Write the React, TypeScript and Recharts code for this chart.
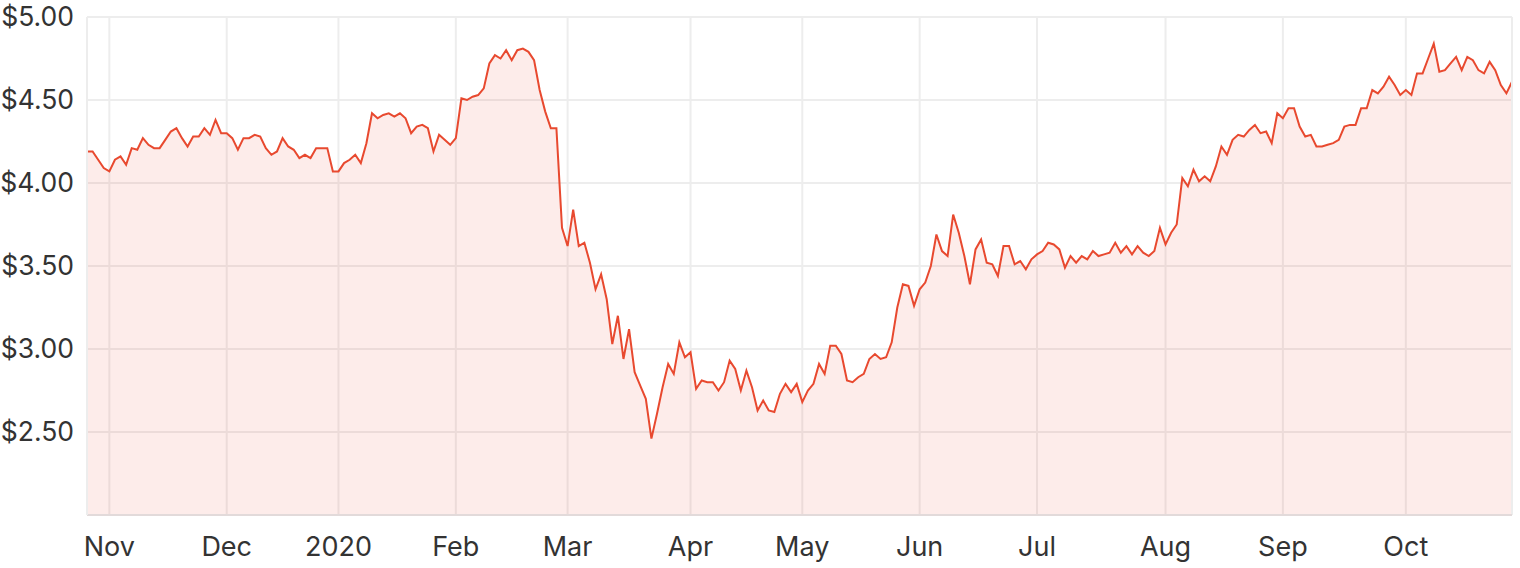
import { AreaChart, Area, XAxis, YAxis, CartesianGrid, ReferenceLine } from "recharts";

// trading calendar (ASX), first and last session shown
const startDate = "2019-10-28";
const endDate = "2020-10-28";
const asxHolidays = [
  "2019-12-25",
  "2019-12-26",
  "2020-01-01",
  "2020-01-27",
  "2020-04-10",
  "2020-04-13",
  "2020-06-08",
];

const monthNames = ["Jan", "Feb", "Mar", "Apr", "May", "Jun", "Jul", "Aug", "Sep", "Oct", "Nov", "Dec"];

// closing price, one value per trading day
const prices = [
  4.19, 4.19, 4.14, 4.09, 4.07, 4.14, 4.16, 4.11, 4.21, 4.2,
  4.27, 4.23, 4.21, 4.21, 4.26, 4.31, 4.33, 4.27, 4.22, 4.28,
  4.28, 4.33, 4.29, 4.38, 4.3, 4.3, 4.27, 4.2, 4.27, 4.27,
  4.29, 4.28, 4.21, 4.17, 4.19, 4.27, 4.22, 4.2, 4.15, 4.17,
  4.15, 4.21, 4.21, 4.21, 4.07, 4.07, 4.12, 4.14, 4.17, 4.12,
  4.24, 4.42, 4.39, 4.41, 4.42, 4.4, 4.42, 4.39, 4.3, 4.34,
  4.35, 4.33, 4.19, 4.29, 4.26, 4.23, 4.27, 4.51, 4.5, 4.52,
  4.53, 4.57, 4.72, 4.77, 4.75, 4.8, 4.74, 4.8, 4.81, 4.79,
  4.74, 4.56, 4.43, 4.33, 4.33, 3.73, 3.62, 3.84, 3.62, 3.64,
  3.52, 3.36, 3.45, 3.3, 3.03, 3.2, 2.94, 3.12, 2.86, 2.78,
  2.7, 2.46, 2.61, 2.77, 2.91, 2.85, 3.04, 2.95, 2.98, 2.76,
  2.81, 2.8, 2.8, 2.75, 2.8, 2.93, 2.88, 2.75, 2.87, 2.77,
  2.63, 2.69, 2.63, 2.62, 2.73, 2.79, 2.74, 2.79, 2.68, 2.75,
  2.79, 2.91, 2.85, 3.02, 3.02, 2.97, 2.81, 2.8, 2.83, 2.85,
  2.94, 2.97, 2.94, 2.95, 3.04, 3.25, 3.39, 3.38, 3.26, 3.36,
  3.4, 3.5, 3.69, 3.59, 3.56, 3.81, 3.7, 3.56, 3.39, 3.6,
  3.66, 3.52, 3.51, 3.44, 3.62, 3.62, 3.51, 3.53, 3.48, 3.54,
  3.57, 3.59, 3.64, 3.63, 3.6, 3.49, 3.56, 3.52, 3.56, 3.54,
  3.59, 3.56, 3.57, 3.58, 3.64, 3.58, 3.62, 3.57, 3.62, 3.58,
  3.56, 3.59, 3.73, 3.63, 3.7, 3.75, 4.03, 3.98, 4.08, 4.01,
  4.04, 4.01, 4.1, 4.22, 4.17, 4.26, 4.29, 4.28, 4.32, 4.35,
  4.3, 4.31, 4.24, 4.42, 4.39, 4.45, 4.45, 4.34, 4.28, 4.29,
  4.22, 4.22, 4.23, 4.24, 4.26, 4.34, 4.35, 4.35, 4.45, 4.45,
  4.56, 4.54, 4.58, 4.64, 4.59, 4.53, 4.56, 4.53, 4.66, 4.66,
  4.75, 4.84, 4.67, 4.68, 4.72, 4.76, 4.68, 4.76, 4.74, 4.68,
  4.66, 4.73, 4.68, 4.59, 4.54, 4.61,
];

const priceTicks = [2.5, 3, 3.5, 4, 4.5, 5];

function tradingDays(): string[] {
  const out: string[] = [];
  const d = new Date(startDate + "T00:00:00Z");
  const end = new Date(endDate + "T00:00:00Z");
  while (d <= end) {
    const wd = d.getUTCDay();
    const iso = d.toISOString().slice(0, 10);
    if (wd !== 0 && wd !== 6 && !asxHolidays.includes(iso)) out.push(iso);
    d.setUTCDate(d.getUTCDate() + 1);
  }
  return out;
}

const days = tradingDays();
const data = days.map((date, i) => ({ i, date, price: prices[i] }));

// first trading day of each month gets a tick
const monthTicks = data
  .filter((d, i) => i > 0 && d.date.slice(0, 7) !== data[i - 1].date.slice(0, 7))
  .map((d) => d.i);

const formatMonth = (i: number) => {
  const date = data[i]?.date ?? "";
  const m = Number(date.slice(5, 7));
  return m === 1 ? date.slice(0, 4) : monthNames[m - 1];
};

const LINE = "#e8492f";
const GRID = "#ededed";
const font = "Inter, 'Noto Sans', sans-serif";

export default function App() {
  return (
    <div style={{ position: "absolute", left: 0, top: 0, background: "#fff" }}>
      <AreaChart
        width={1520}
        height={568}
        data={data}
        margin={{ top: 17, right: 8, bottom: 0, left: 0 }}
      >
        <CartesianGrid stroke={GRID} strokeWidth={2} />
        <XAxis
          type="number"
          dataKey="i"
          domain={[0, data.length - 1]}
          ticks={monthTicks}
          interval={0}
          tickFormatter={formatMonth}
          height={53}
          tickLine={false}
          tickSize={0}
          tickMargin={22}
          axisLine={{ stroke: "#e2dada", strokeWidth: 2 }}
          tick={{ fill: "#333333", fontSize: 27, fontFamily: font }}
        />
        <YAxis
          domain={[2, 5]}
          ticks={priceTicks}
          interval={0}
          width={87}
          tickFormatter={(v: number) => `$${v.toFixed(2)}`}
          tickLine={false}
          tickSize={0}
          tickMargin={13}
          axisLine={{ stroke: GRID, strokeWidth: 2 }}
          tick={{ fill: "#333333", fontSize: 26.5, fontFamily: font }}
        />
        <ReferenceLine x={data.length - 1} stroke={GRID} strokeWidth={2} />
        <Area
          type="linear"
          dataKey="price"
          stroke={LINE}
          strokeWidth={2}
          fill={LINE}
          fillOpacity={0.1}
          dot={false}
          activeDot={false}
          isAnimationActive={false}
        />
      </AreaChart>
    </div>
  );
}
